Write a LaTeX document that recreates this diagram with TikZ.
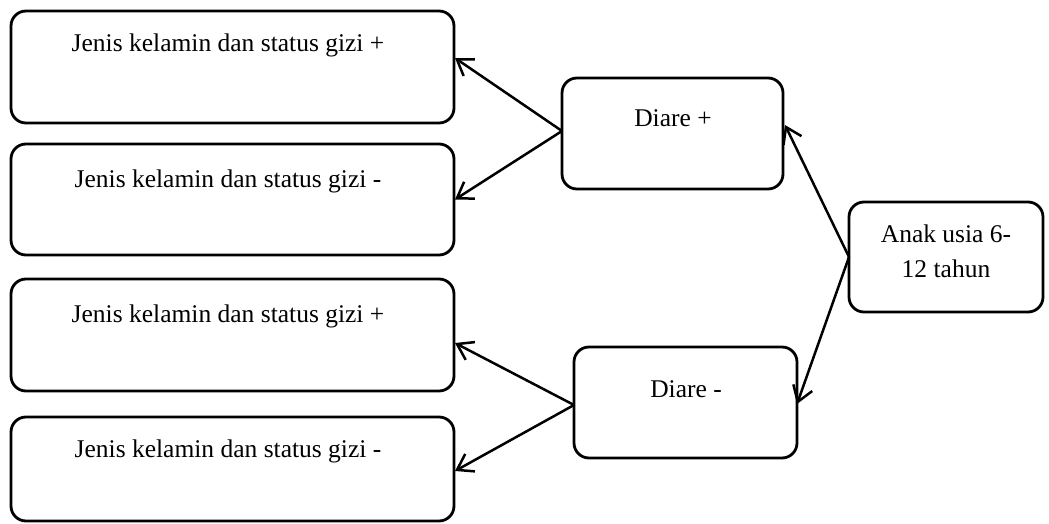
\documentclass[tikz,border=0pt]{standalone}
\usepackage{fontspec}
\setmainfont{Liberation Serif}
\usetikzlibrary{arrows.meta}
\begin{document}
\begin{tikzpicture}[x=1pt,y=-1pt,
  box/.style={draw,line width=2.8pt,rounded corners=15pt,inner sep=0pt,outer sep=0pt},
  lbl/.style={inner sep=0pt,anchor=base,font=\fontsize{25.5}{35}\selectfont},
  conn/.style={line width=2.5pt,-{Straight Barb[length=15pt,width=20pt,line width=2.5pt]}}]
\useasboundingbox (0,0) rectangle (1049,524);
\node[box,minimum width=443pt,minimum height=112pt] (b1) at (232.5,67) {};
\node[box,minimum width=443pt,minimum height=111pt] (b2) at (232.5,199.5) {};
\node[box,minimum width=443pt,minimum height=112pt] (b3) at (232.5,335) {};
\node[box,minimum width=443pt,minimum height=104pt] (b4) at (232.5,469) {};
\node[box,minimum width=221pt,minimum height=111pt] (dp) at (672.5,133.5) {};
\node[box,minimum width=223pt,minimum height=111pt] (dm) at (685.5,402.5) {};
\node[box,minimum width=194pt,minimum height=110pt] (anak) at (946,257) {};
\node[lbl] (t1) at (228,52) {Jenis kelamin dan status gizi +};
\node[lbl] (t2) at (228,187) {Jenis kelamin dan status gizi -};
\node[lbl] (t3) at (228,322) {Jenis kelamin dan status gizi +};
\node[lbl] (t4) at (228,457) {Jenis kelamin dan status gizi -};
\node[lbl] (tdp) at (673,127) {Diare +};
\node[lbl] (tdm) at (686,397) {Diare -};
\node[lbl] (ta1) at (946,242) {Anak usia 6-};
\node[lbl] (ta2) at (946,277) {12 tahun};
\draw[conn] ([yshift=2.5pt]dp.west) -- ([yshift=9pt,xshift=1pt]b1.east);
\draw[conn] ([yshift=2.5pt]dp.west) -- ([xshift=1pt]b2.east);
\draw[conn] ([yshift=-2.5pt]dm.west) -- ([yshift=-8pt,xshift=1pt]b3.east);
\draw[conn] ([yshift=-2.5pt]dm.west) -- ([yshift=-2pt,xshift=1pt]b4.east);
\draw[conn] (anak.west) -- ([yshift=8.5pt,xshift=2pt]dp.east);
\draw[conn] (anak.west) -- ([yshift=-1.5pt]dm.east);
\end{tikzpicture}
\end{document}
